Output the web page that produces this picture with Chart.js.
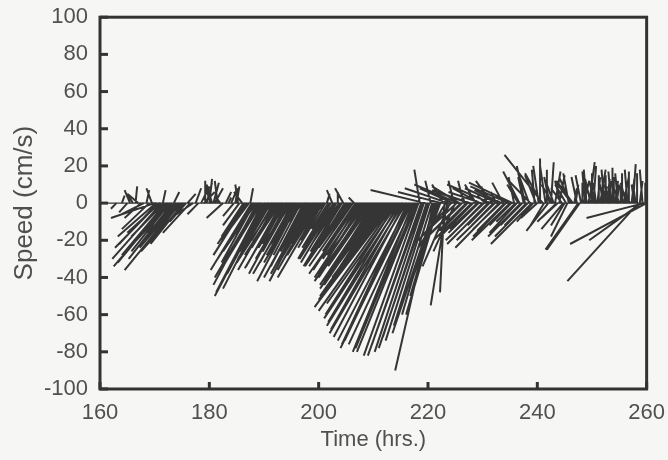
<!DOCTYPE html>
<html>
<head>
<meta charset="utf-8">
<script src="https://cdn.jsdelivr.net/npm/chart.js@4.4.0/dist/chart.umd.min.js"></script>
<style>
  html, body { margin: 0; padding: 0; background: #f6f6f5; }
  #wrap { width: 668px; height: 460px; }
</style>
</head>
<body>
<div id="wrap"><canvas id="stickChart" width="668" height="460"></canvas></div>
<script>
// stick (feather) plot: each stick starts at (hour, 0) and ends at (hour + tipShift, speed)
const hours = [
  163, 164, 165, 166, 166.5, 167, 167.5, 168, 168.5, 169, 169.5, 170, 170.5, 171, 171.5,
  172, 172.5, 173, 173.5, 174, 174.5, 175, 175.5, 176, 176.5, 177, 177.5, 178, 178.5, 179,
  179.5, 180, 180.5, 181, 181.5, 182, 182.5, 183, 183.5, 184, 184.5, 185, 185.5, 186, 186.5,
  187, 187.5, 188, 188.5, 189, 189.5, 190, 190.5, 191, 191.5, 192, 192.5, 193, 193.5, 194,
  194.5, 195, 195.5, 196, 196.5, 197, 197.5, 198, 198.5, 199, 199.5, 200, 200.5, 201, 201.5,
  202, 202.5, 203, 203.5, 204, 204.5, 205, 205.5, 206, 206.5, 207, 207.5, 208, 208.5, 209,
  209.5, 210, 210.5, 211, 211.5, 212, 212.5, 213, 213.5, 214, 214.5, 215, 215.5, 216, 216.5,
  217, 217.5, 218, 218.5, 219, 219.5, 220, 220.5, 221, 221.5, 222, 222.5, 223, 223.5, 224,
  224.5, 225, 225.5, 226, 226.5, 227, 227.5, 228, 228.5, 229, 229.5, 230, 230.5, 231, 231.5,
  232, 232.5, 233, 233.5, 234, 234.5, 235, 235.5, 236, 236.5, 237, 237.5, 238, 238.5, 239,
  239.5, 240, 240.5, 241, 241.5, 242, 242.5, 243, 243.5, 244, 244.5, 245, 245.5, 246, 246.5,
  247, 247.5, 248, 248.5, 249, 249.5, 250, 250.5, 251, 251.5, 252, 252.5, 253, 253.5, 254,
  254.5, 255, 255.5, 256, 256.5, 257, 257.5, 258, 258.5, 259, 259.5, 260
];
const tipShift = [
  -1, 0.5, -1.5, -1, 0.3, -2, -3, -4, 0.5, -5, -1, -8, -7, -6, 0.5,
  -8, -10, -7, 1, -6, -10, -4, -8, 1.5, -5, -3, 1, -2, 1.5, 2,
  1, 0.5, -1, 1.5, -0.5, -1, -3, 1, 0.5, 1, -2, 0.5, -3, -1.5, -5,
  -4, 0.5, -6.5, -6, -8, -7, -9, -8, -5, -4, -7, -6, -4, -7, -5,
  -6, -4.5, -7.5, -5.5, -6.5, -4, -7.5, -5, -7.5, -4, -7, -5, -8, -4, 0.5,
  -5, -1, -6.5, 0, -5.5, -1.5, -6, -8, -6, -1, -8, -6, -8, -6, -9,
  -7, -9, -7, -10, -8, -11, -10, -13, -12, -14, -13, -14, -14, -14, -13,
  -13, -12, -11, -1, -10, -10, -9, -1, -7, -8, -6, -8, -0.8, -3, -5,
  -6, -4, -8, -7.5, -1, -5.5, -6, -7, -1, -5, -5, -6, -1.5, -7.5, -8,
  -4, -1, -8, -5, -5, -2, -7, -8, -3.5, -2, -6, -1, -4, -2, -7.5,
  -0.5, -3, 0, -7, -1, -4, 0.5, -1.5, -3.5, 1, -2, -2.5, -3, -2, -3,
  0.5, -6, -1, 1, -0.5, 1, 0, -1, 0.5, 1, -0.5, 0, 0.5, -0.5, 0,
  0.5, -1, 0, 0.5, -0.5, -2, 0.5, -0.5, -13, -9.5, -10.5, -14, -18
];
const speed = [
  -3, 4, -5, 5, 9, 5, -8, -6, 7, -14, 8, -8, -22, -16, 7,
  -28, -34, -22, 6, -20, -36, -12, -26, 5, -16, -6, 8, -6, 9, 6,
  11, 13, 10, 8, 12, 4, -8, 6, 3, 7, -7, 9, -12, 6, -22,
  -16, 8, -30, -26, -40, -34, -50, -46, -22, -15, -32, -28, -18, -35, -24,
  -30, -20, -38, -28, -32, -16, -40, -26, -42, -18, -36, -22, -40, -14, 5,
  -24, 7, -30, 6, -26, 8, -26, -34, -24, 3, -36, -28, -38, -26, -40,
  -30, -42, -32, -44, -36, -48, -40, -52, -46, -58, -54, -62, -66, -70, -74,
  -78, -76, -80, 18, -82, 7, -78, 12, -90, -70, -60, 6, -48, -55, -34,
  8, -26, 10, -22, 12, -16, 6, -20, 5, -14, 8, -18, 4, -22, 10,
  -12, 6, -24, 7, -15, 4, -20, 11, -10, 10, -18, 14, -12, 16, -22,
  18, -8, 24, 26, 20, -15, 22, 12, -10, 15, 8, -12, -18, 14, 12,
  10, -25, 15, 12, 18, 22, 16, 12, 14, 18, 10, 15, 12, 17, 14,
  10, 8, 16, 12, 18, 9, 21, 10, -42, -20, -8, -22, -25
];

// in-between samples (quarter hours) where the record is denser
const hours2 = [
  165.5, 170.25, 170.75, 171.25, 171.75, 172.25, 172.75, 173.25, 173.75, 174.25, 174.75, 175.25, 175.75,
  179.25, 180.25, 180.75, 184.75, 185.25,
  186.25, 186.75, 187.25, 187.75, 188.25, 188.75, 189.25, 189.75, 190.25, 190.75,
  191.25, 191.75, 192.25, 192.75, 193.25, 193.75, 194.25, 194.75, 195.25, 195.75,
  196.25, 196.75, 197.25, 197.75, 198.25, 198.75, 199.25, 199.75, 200.25, 200.75,
  201.25, 201.75, 202.25, 202.75, 203.25, 203.75, 204.25, 204.75, 205.25, 205.75,
  206.25, 206.75, 207.25, 207.75, 208.25, 208.75, 209.25, 209.75, 210.25, 210.75,
  211.25, 211.75, 212.25, 212.75, 213.25, 213.75, 214.25, 214.75, 215.25, 215.75,
  216.25, 216.75, 217.25, 217.75, 218.25, 218.75, 219.25, 219.75, 220.25, 220.75,
  221.25, 221.75, 222.25, 222.75, 223.25, 223.75, 224.25, 224.75, 225.25, 225.75,
  226.25, 226.75, 227.25, 227.75, 228.25, 228.75, 229.25, 229.75, 230.25, 230.75,
  231.25, 231.75, 232.25, 232.75, 233.25, 233.75, 234.25, 234.75, 235.25, 235.75,
  236.25, 236.75, 237.25, 237.75, 238.25, 238.75, 239.25, 239.75, 240.25, 240.75,
  241.25, 241.75, 242.25, 242.75, 243.25, 243.75, 244.25, 244.75, 245.25, 245.75,
  246.25, 246.75, 247.25, 247.75, 248.25, 248.75, 249.25, 249.75, 250.25, 250.75,
  251.25, 251.75, 252.25, 252.75, 253.25, 253.75, 254.25, 254.75, 255.25, 255.75,
  256.25, 256.75, 257.25, 257.75, 258.25, 258.75, 259.25, 259.75
];
const tipShift2 = [
  -1, -7, -8, -9, -6, -9, -7, -8, -5, -7, -5, -6, -3,
  0, -1, 1, 0.5, -0.5,
  -4, -6, -5, -7.5, -6, -8, -5, -8.5, -7, -5,
  -6, -4, -7, -5, -6.5, -4, -7, -5, -6, -4.5,
  -7.5, -5, -6, -4, -7, -5, -6.5, -4, -6, -4,
  -5, -3, -6, -4, -6.5, -5, -7, -5, -7, -6,
  -8, -6, -9, -7, -9, -7, -10, -8, -10, -9,
  -11, -10, -12, -11, -14, -13, -13, -13, -13, -13,
  -12, -12, -11, -11, -10, -9, -9, -8, -8, -7,
  -6, -5, -5, -2, -5, -8, -6, -1, -6.5, -5,
  -7, -1, -5, -7, -6, -2, -5.5, -6, -7, -1,
  -4, -3, -7, -6, -5, -2, -6, -7, -4, -1,
  -5, -3, -4, -1.5, -6, -4, -3, -2, -1, -3,
  -2.5, 0, -1, -2, 1, -3, -1, -4, -2, -1,
  -3, 0.5, -1, -6, 0, -0.5, 1, -1, 0.5, -0.5,
  0, 1, -0.5, 0.5, -1, 0, 0.5, -0.5, 0, 1,
  -1, 0, 0.5, -0.5, 0, 0.5, -0.5, 0
];
const speed2 = [
  7, -18, -24, -30, -18, -32, -26, -30, -16, -24, -18, -22, -10,
  12, 9, 11, 8, 10,
  -18, -28, -20, -36, -32, -44, -24, -48, -38, -26,
  -30, -20, -36, -24, -34, -22, -38, -26, -32, -22,
  -42, -28, -34, -20, -38, -26, -32, -18, -28, -20,
  -24, -14, -30, -18, -32, -22, -34, -24, -30, -22,
  -34, -26, -38, -30, -40, -28, -42, -34, -44, -38,
  -46, -40, -50, -44, -56, -50, -60, -64, -68, -72,
  -76, -74, -80, -78, -82, -76, -80, -72, -74, -66,
  -60, -50, -40, 10, -24, 8, -20, 12, -18, 9,
  -20, 8, -15, 7, -18, 10, -16, 6, -20, 9,
  -12, 12, -20, 8, -14, 11, -18, 9, -12, 14,
  -16, 17, -12, 20, -18, 12, -10, 15, 20, 16,
  -12, 18, 14, 10, 17, -8, 12, -14, 10, 16,
  12, 8, 14, -25, 11, 17, 9, 13, 20, 11,
  15, 9, 18, 13, 10, 19, 12, 16, 9, 14,
  11, 17, 13, 10, 16, 12, 18, 11
];

const stickPoints = [];
function addSticks(hs, shifts, speeds) {
  hs.forEach((h, i) => {
    stickPoints.push({ x: h, y: 0 });
    stickPoints.push({ x: h + shifts[i], y: speeds[i] });
    stickPoints.push({ x: h, y: null });
  });
}
addSticks(hours, tipShift, speed);
addSticks(hours2, tipShift2, speed2);

const inkColor = "#353535";
const textColor = "#505050";
const labelFont = { family: "Liberation Sans", size: 22 };

// frame around the plot plus inward tick marks
const frameAndTicks = {
  id: "frameAndTicks",
  afterDraw(chart) {
    const c = chart.ctx;
    const area = chart.chartArea;
    const xs = chart.scales.x;
    const ys = chart.scales.y;
    c.save();
    c.strokeStyle = "#333";
    c.lineWidth = 3;
    ys.ticks.forEach((t) => {
      const py = ys.getPixelForValue(t.value);
      c.beginPath();
      c.moveTo(area.left, py);
      c.lineTo(area.left + 8, py);
      c.stroke();
    });
    xs.ticks.forEach((t) => {
      const px = xs.getPixelForValue(t.value);
      c.beginPath();
      c.moveTo(px, area.bottom);
      c.lineTo(px, area.bottom - 7);
      c.stroke();
    });
    c.strokeRect(area.left, area.top, area.right - area.left, area.bottom - area.top);
    c.restore();
  },
};

const ctx = document.getElementById("stickChart").getContext("2d");
const stickChart = new Chart(ctx, {
  type: "scatter",
  data: {
    datasets: [
      {
        label: "zero",
        data: [{ x: 160, y: 0 }, { x: 260, y: 0 }],
        showLine: true,
        borderColor: inkColor,
        borderWidth: 1.2,
        pointRadius: 0,
      },
      {
        label: "Speed",
        data: stickPoints,
        showLine: true,
        spanGaps: false,
        borderColor: inkColor,
        borderWidth: 2,
        pointRadius: 0,
      },
    ],
  },
  options: {
    animation: false,
    responsive: false,
    layout: { padding: { left: 0, top: 17, right: 21, bottom: 0 } },
    plugins: { legend: { display: false }, tooltip: { enabled: false } },
    scales: {
      x: {
        type: "linear",
        min: 160,
        max: 260,
        grid: { display: false },
        border: { display: false },
        ticks: { stepSize: 20, color: textColor, padding: 3, font: labelFont },
        title: { display: true, text: "Time (hrs.)", color: textColor, padding: { top: 0, bottom: 7 }, font: labelFont },
        afterFit(scale) { scale.height = 71; },
      },
      y: {
        min: -100,
        max: 100,
        grid: { display: false },
        border: { display: false },
        ticks: { stepSize: 20, color: textColor, padding: 4, font: labelFont },
        title: { display: true, text: "Speed (cm/s)", color: textColor, padding: { top: 9, bottom: 0 }, font: { family: "Liberation Sans", size: 26 } },
        afterFit(scale) { scale.width = 100; },
      },
    },
  },
  plugins: [frameAndTicks],
});
</script>
</body>
</html>
